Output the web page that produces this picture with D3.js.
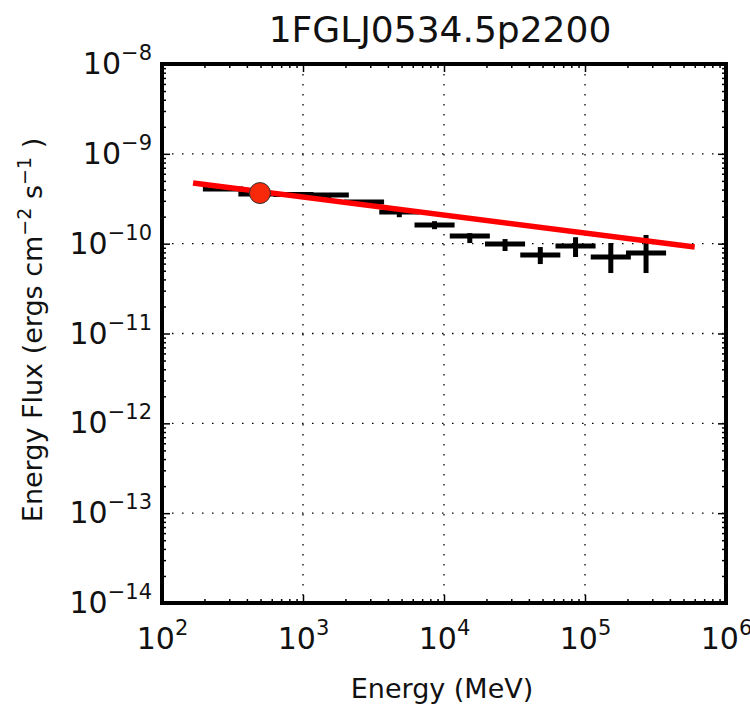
<!DOCTYPE html>
<html><head><meta charset="utf-8">
<script src="https://cdn.jsdelivr.net/npm/d3@7"></script>
<style>body{margin:0;background:#fff}svg{display:block}text{font-family:"DejaVu Sans",sans-serif}</style>
</head><body><svg id="c" width="750" height="706"></svg>
<script>
const title = "1FGLJ0534.5p2200";
const energy = [271, 482, 857, 1524, 2710, 4819, 8570, 15240, 27100, 48190, 85700, 152400, 271000];
const eLow  = [195, 348, 618, 1099, 1954, 3474, 6179, 10988, 19539, 34744, 61788, 109878, 195386];
const eHigh = [376, 668, 1189, 2114, 3759, 6684, 11887, 21138, 37588, 66840, 118866, 211379, 375877];
const flux   = [4.06e-10, 3.57e-10, 3.52e-10, 3.48e-10, 2.91e-10, 2.25e-10, 1.61e-10, 1.22e-10, 9.9e-11, 7.46e-11, 9.4e-11, 7.1e-11, 7.86e-11];
const fluxHi = [4.2e-10, 3.7e-10, 3.65e-10, 3.6e-10, 3.06e-10, 2.48e-10, 1.78e-10, 1.31e-10, 1.125e-10, 9.17e-11, 1.18e-10, 1.016e-10, 1.25e-10];
const fluxLo = [3.92e-10, 3.44e-10, 3.4e-10, 3.2e-10, 2.7e-10, 1.97e-10, 1.45e-10, 1.016e-10, 8.28e-11, 5.93e-11, 7.1e-11, 4.71e-11, 4.71e-11];
const modelE = [166, 6.0e5];
const modelF = [4.73e-10, 9.17e-11];
const pivotE = [495];
const pivotF = [3.66e-10];
const xTickExp = [2, 3, 4, 5, 6];
const yTickExp = [-14, -13, -12, -11, -10, -9, -8];

const L = 162, R = 726, T = 64, B = 603;
const svg = d3.select("#c");
const x = d3.scaleLog().domain([1e2, 1e6]).range([L, R]);
const y = d3.scaleLog().domain([1e-14, 1e-8]).range([B, T]);

const xMaj = xTickExp.map(e => Math.pow(10, e));
const yMaj = yTickExp.map(e => Math.pow(10, e));
const xMin = [], yMin = [];
for (let e = 2; e < 6; e++) for (let m = 2; m <= 9; m++) xMin.push(m * Math.pow(10, e));
for (let e = -14; e < -8; e++) for (let m = 2; m <= 9; m++) yMin.push(m * Math.pow(10, e));

// grid
const g = svg.append("g");
g.selectAll("line.gx").data(xMaj.slice(1, -1)).enter().append("line")
  .attr("x1", d => x(d)).attr("x2", d => x(d)).attr("y1", T).attr("y2", B)
  .attr("stroke", "#000").attr("stroke-width", 1.3).attr("stroke-dasharray", "1.5,8.5");
g.selectAll("line.gy").data(yMaj.slice(1, -1)).enter().append("line")
  .attr("y1", d => y(d)).attr("y2", d => y(d)).attr("x1", L).attr("x2", R)
  .attr("stroke", "#000").attr("stroke-width", 1.3).attr("stroke-dasharray", "1.5,8.5");

// ticks (inward, all sides)
function tickAxis(axis, tr, vals, size) {
  const a = svg.append("g").attr("transform", tr)
    .call(axis.tickValues(vals).tickSizeInner(size).tickSizeOuter(0).tickFormat(""));
  a.select(".domain").remove();
  a.selectAll("line").attr("stroke", "#000").attr("stroke-width", 1.5);
}
tickAxis(d3.axisBottom(x), `translate(0,${B})`, xMaj, -8);
tickAxis(d3.axisBottom(x), `translate(0,${B})`, xMin, -4);
tickAxis(d3.axisTop(x), `translate(0,${T})`, xMaj, -8);
tickAxis(d3.axisTop(x), `translate(0,${T})`, xMin, -4);
tickAxis(d3.axisLeft(y), `translate(${L},0)`, yMaj, -8);
tickAxis(d3.axisLeft(y), `translate(${L},0)`, yMin, -4);
tickAxis(d3.axisRight(y), `translate(${R},0)`, yMaj, -8);
tickAxis(d3.axisRight(y), `translate(${R},0)`, yMin, -4);

// tick labels
function sup(sel, expOf) {
  sel.each(function(d) {
    const t = d3.select(this); t.text(null);
    t.append("tspan").text("10");
    t.append("tspan").attr("dy", -14).attr("font-size", 21).text(String(expOf(d)).replace("-", "\u2212"));
  });
}
const xl = svg.append("g").attr("transform", `translate(0,${B})`)
  .call(d3.axisBottom(x).tickValues(xMaj).tickSize(0).tickPadding(25).tickFormat(d => d));
xl.select(".domain").remove();
xl.selectAll("text").attr("font-size", 30).attr("fill", "#111").attr("font-family", "DejaVu Sans")
  .call(sup, d => Math.round(Math.log10(d)));
const yl = svg.append("g").attr("transform", `translate(${L},0)`)
  .call(d3.axisLeft(y).tickValues(yMaj).tickSize(0).tickPadding(10).tickFormat(d => d));
yl.select(".domain").remove();
yl.selectAll("text").attr("font-size", 30).attr("fill", "#111").attr("font-family", "DejaVu Sans")
  .call(sup, d => Math.round(Math.log10(d)));

// data error bars
const pts = energy.map((e, i) => ({e, lo: eLow[i], hi: eHigh[i], f: flux[i], fl: fluxLo[i], fh: fluxHi[i]}));
const eb = svg.append("g").attr("stroke", "#000").attr("stroke-width", 5);
eb.selectAll("line.h").data(pts).enter().append("line")
  .attr("x1", d => x(d.lo)).attr("x2", d => x(d.hi)).attr("y1", d => y(d.f)).attr("y2", d => y(d.f));
eb.selectAll("line.v").data(pts).enter().append("line")
  .attr("x1", d => x(d.e)).attr("x2", d => x(d.e)).attr("y1", d => y(d.fl)).attr("y2", d => y(d.fh));

// model line
svg.append("path").datum(modelE.map((e, i) => [e, modelF[i]]))
  .attr("d", d3.line().x(d => x(d[0])).y(d => y(d[1])))
  .attr("stroke", "#ff0000").attr("stroke-width", 5.5).attr("fill", "none");
svg.selectAll("circle.p").data(pivotE.map((e, i) => [e, pivotF[i]])).enter().append("circle")
  .attr("cx", d => x(d[0])).attr("cy", d => y(d[1])).attr("r", 10.5)
  .attr("fill", "#f8280a").attr("stroke", "#333").attr("stroke-width", 1);

// frame
svg.append("rect").attr("x", L).attr("y", T).attr("width", R - L).attr("height", B - T)
  .attr("fill", "none").attr("stroke", "#000").attr("stroke-width", 4);

// titles
svg.append("text").attr("x", 440).attr("y", 42).attr("text-anchor", "middle")
  .attr("font-size", 36).attr("fill", "#111").text(title);
svg.append("text").attr("x", 442).attr("y", 698).attr("text-anchor", "middle")
  .attr("font-size", 27).attr("fill", "#111").text("Energy (MeV)");
const yt = svg.append("text").attr("transform", "translate(42,330) rotate(-90)")
  .attr("text-anchor", "middle").attr("font-size", 27).attr("fill", "#111");
yt.append("tspan").text("Energy Flux (ergs cm");
yt.append("tspan").attr("dy", -11).attr("font-size", 19).text("\u22122");
yt.append("tspan").attr("dy", 11).text(" s");
yt.append("tspan").attr("dy", -11).attr("font-size", 19).text("\u22121");
yt.append("tspan").attr("dy", 11).text(" )");
</script></body></html>
